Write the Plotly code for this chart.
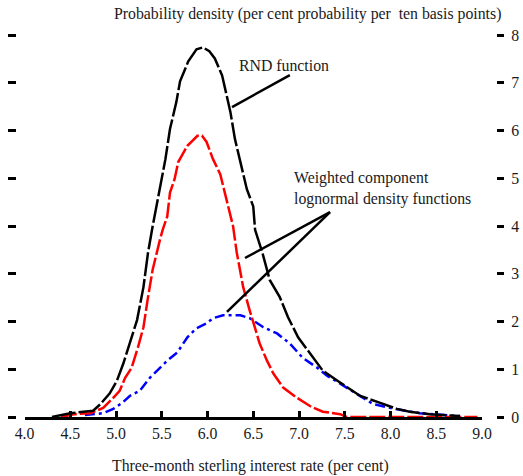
import plotly.graph_objects as go

# RND function (black)
rnd_x = [4.30, 4.50, 4.75, 4.83, 4.93, 5.01, 5.08, 5.15, 5.23, 5.30, 5.35, 5.40, 5.48, 5.54, 5.59,
         5.66, 5.70, 5.79, 5.88, 5.95, 6.02, 6.08, 6.16, 6.19, 6.25, 6.30, 6.36, 6.43, 6.50, 6.52,
         6.60, 6.68, 6.79, 6.88, 6.99, 7.12, 7.26, 7.42, 7.59, 7.67, 7.88, 8.07, 8.21, 8.43, 8.76]
rnd_y = [0.00, 0.08, 0.13, 0.27, 0.49, 0.76, 1.12, 1.54, 2.03, 2.72, 3.44, 3.99, 4.77, 5.40, 6.03,
         6.60, 7.03, 7.45, 7.70, 7.74, 7.66, 7.51, 7.15, 6.88, 6.39, 5.82, 5.34, 4.77, 4.41, 3.92,
         3.44, 2.87, 2.51, 2.09, 1.67, 1.33, 0.97, 0.76, 0.55, 0.44, 0.30, 0.17, 0.11, 0.06, 0.02]

# Weighted component 1 (red)
red_x = [4.40, 4.55, 4.72, 4.86, 4.97, 5.04, 5.10, 5.17, 5.24, 5.30, 5.35, 5.40, 5.48, 5.51, 5.56,
         5.59, 5.64, 5.68, 5.73, 5.78, 5.89, 5.94, 5.99, 6.06, 6.14, 6.19, 6.25, 6.28, 6.32, 6.39,
         6.46, 6.52, 6.57, 6.65, 6.72, 6.83, 6.98, 7.12, 7.26, 7.45, 7.52, 8.95]
red_y = [0.00, 0.06, 0.08, 0.19, 0.40, 0.55, 0.82, 1.03, 1.46, 1.88, 2.51, 3.08, 3.71, 3.92, 4.20,
         4.70, 4.98, 5.34, 5.51, 5.68, 5.89, 5.89, 5.76, 5.40, 5.08, 4.70, 4.20, 3.99, 3.44, 2.72,
         2.24, 1.88, 1.54, 1.18, 0.91, 0.61, 0.40, 0.23, 0.11, 0.06, 0.00, 0.00]

# Weighted component 2 (blue)
blue_x = [4.66, 4.86, 4.97, 5.07, 5.15, 5.26, 5.37, 5.48, 5.56, 5.67, 5.78, 5.88, 5.99, 6.06, 6.17,
          6.36, 6.46, 6.61, 6.76, 6.90, 7.04, 7.20, 7.31, 7.45, 7.58, 7.81, 8.05, 8.32, 8.76]
blue_y = [0.04, 0.08, 0.17, 0.30, 0.44, 0.55, 0.82, 1.03, 1.18, 1.35, 1.67, 1.86, 1.96, 2.07, 2.13,
          2.13, 2.07, 1.88, 1.75, 1.54, 1.24, 1.03, 0.86, 0.70, 0.55, 0.27, 0.17, 0.08, 0.02]

x_ticks = [4.0, 4.5, 5.0, 5.5, 6.0, 6.5, 7.0, 7.5, 8.0, 8.5, 9.0]
y_ticks = [0, 1, 2, 3, 4, 5, 6, 7, 8]

W, H = 523, 476
ML, MR = 0, 0
PW = W - ML - MR


def px2dom(p):
    return (p - ML) / PW


FONT = "Liberation Serif, Times New Roman, Times, serif"
FS = 15.8
TXT = "#1a1a1a"

fig = go.Figure()
fig.add_trace(go.Scatter(x=blue_x, y=blue_y, mode="lines",
                         line=dict(color="#0000ff", width=2.5, dash="10px,4px,3px,4px"),
                         showlegend=False, hoverinfo="skip"))
fig.add_trace(go.Scatter(x=red_x, y=red_y, mode="lines",
                         line=dict(color="#ff0000", width=2.5, dash="16px,3px"),
                         showlegend=False, hoverinfo="skip"))
fig.add_trace(go.Scatter(x=rnd_x, y=rnd_y, mode="lines",
                         line=dict(color="#000000", width=2.5, dash="24px,3px"),
                         showlegend=False, hoverinfo="skip"))
# invisible trace for right axis
fig.add_trace(go.Scatter(x=[4, 9], y=[0, 8], yaxis="y2", mode="markers",
                         marker=dict(opacity=0), showlegend=False, hoverinfo="skip"))

fig.update_layout(
    width=W, height=H,
    margin=dict(l=ML, r=MR, t=35, b=59, autoexpand=False),
    paper_bgcolor="white", plot_bgcolor="white",
    font=dict(family=FONT, size=FS, color=TXT),
    xaxis=dict(domain=[px2dom(24.5), px2dom(482)], range=[4, 9],
               tickvals=x_ticks, ticktext=[f"{v:.1f}" for v in x_ticks],
               ticks="inside", ticklen=6, tickwidth=2.5, tickcolor="black",
               showline=True, linecolor="black", linewidth=3,
               showgrid=False, zeroline=False, automargin=False,
               tickfont=dict(family=FONT, size=FS, color=TXT)),
    yaxis=dict(range=[0, 8], anchor="free", position=px2dom(16), side="left",
               tickvals=y_ticks, showticklabels=False, automargin=False,
               ticks="outside", ticklen=8, tickwidth=2.5, tickcolor="black",
               showline=False, showgrid=False, zeroline=False),
    yaxis2=dict(range=[0, 8], anchor="free", position=px2dom(496), side="right",
                overlaying="y", tickvals=y_ticks, automargin=False,
                ticks="outside", ticklen=7, tickwidth=2.5, tickcolor="black",
                ticklabelstandoff=4,
                showline=False, showgrid=False, zeroline=False,
                tickfont=dict(family=FONT, size=FS, color=TXT)),
)

# annotation leader lines
lines = [
    ((6.268, 6.49), (6.90, 7.16)),
    ((7.339, 4.29), (6.41, 3.33)),
    ((7.339, 4.29), (6.213, 2.20)),
]
for (x0, y0), (x1, y1) in lines:
    fig.add_shape(type="line", xref="x", yref="y", x0=x0, y0=y0, x1=x1, y1=y1,
                  line=dict(color="black", width=2.5))

fig.add_annotation(x=6.32, y=7.37, xref="x", yref="y", text="RND function",
                   showarrow=False, xanchor="left", font=dict(family=FONT, size=FS, color=TXT))
fig.add_annotation(x=6.92, y=5.0, xref="x", yref="y", text="Weighted component",
                   showarrow=False, xanchor="left", font=dict(family=FONT, size=FS, color=TXT))
fig.add_annotation(x=6.92, y=4.57, xref="x", yref="y", text="lognormal density functions",
                   showarrow=False, xanchor="left", font=dict(family=FONT, size=FS, color=TXT))

fig.add_annotation(x=px2dom(307), y=1, xref="paper", yref="paper", yshift=21,
                   yanchor="middle",
                   text="Probability density (per cent probability per  ten basis points)",
                   showarrow=False, xanchor="center", font=dict(family=FONT, size=FS, color=TXT))
fig.add_annotation(x=px2dom(250), y=0, xref="paper", yref="paper", yshift=-49,
                   yanchor="middle",
                   text="Three-month sterling interest rate (per cent)",
                   showarrow=False, xanchor="center", font=dict(family=FONT, size=FS, color=TXT))

fig.write_html("out.html", config={"displayModeBar": False},
               post_script="document.body.style.margin='0';")
